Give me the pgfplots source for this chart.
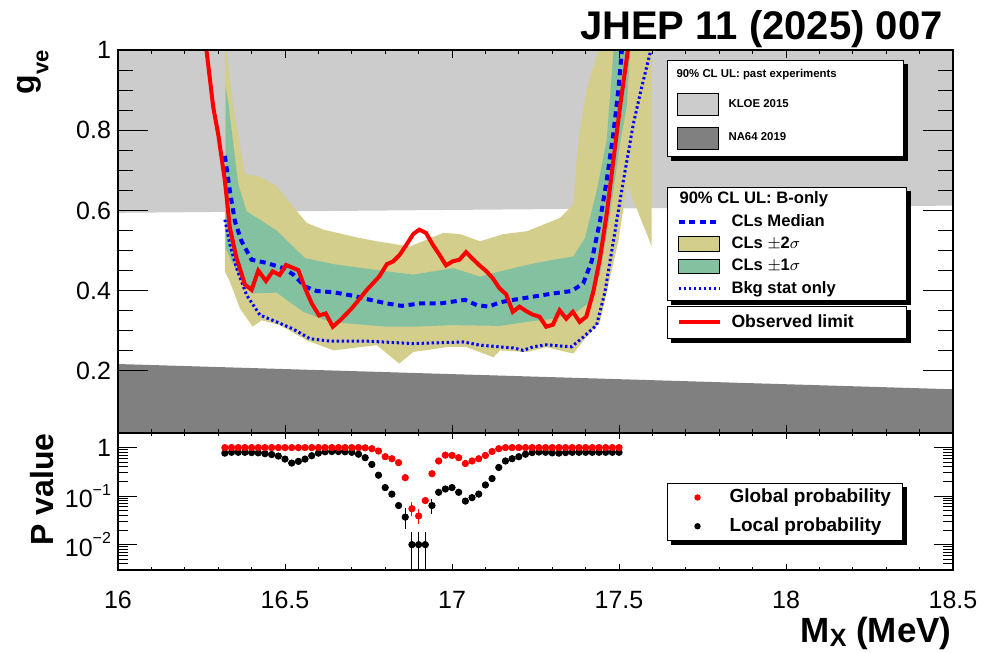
\documentclass[border=0pt]{standalone}
\usepackage{fontspec}
\setmainfont{Liberation Sans}
\usepackage{pgfplots}
\pgfplotsset{compat=1.18}
\definecolor{kloe}{RGB}{204,204,204}
\definecolor{na64}{RGB}{128,128,128}
\definecolor{band2}{RGB}{212,206,140}
\definecolor{band1}{RGB}{132,193,160}
\definecolor{rootblue}{RGB}{0,0,255}
\definecolor{rootred}{RGB}{255,0,0}
\newcommand{\tickfont}{\fontsize{12.5}{13}\selectfont}
\newcommand{\shadowof}[1]{%
  \fill[black] ([yshift=-2pt]#1.north east) rectangle ([xshift=2pt,yshift=-2pt]#1.south east);
  \fill[black] ([xshift=2pt]#1.south west) rectangle ([xshift=2pt,yshift=-2pt]#1.south east);}
\pgfplotsset{
  swatch/.style={legend image code/.code={\draw[##1,draw=black,line width=0.5pt] (0pt,-3.6pt) rectangle (20.5pt,3.6pt);}},
  bigswatch/.style={legend image code/.code={\draw[##1,draw=black,line width=0.5pt] (0pt,-5.5pt) rectangle (20.5pt,5.5pt);}},
  linesw/.style={legend image code/.code={\draw[##1] (0pt,0pt) -- (20.5pt,0pt);}},
  dotimg/.style={legend image code/.code={\path[draw=none,fill=none] (0pt,-2pt) rectangle (17pt,2pt); \fill[##1, draw=none] (8.5pt,0pt) circle (1.6pt);}},
  rootlegend/.style={legend cell align=left,
    legend style={draw=black, line width=0.5pt, fill=white,
      inner xsep=4.5pt, column sep=4pt, anchor=north west,
      nodes={inner sep=1pt}}},
  overlaytop/.style={at={(59pt,-25pt)}, anchor=north west, width=417.5pt, height=191.5pt,
    scale only axis, hide axis, xmin=16, xmax=18.5, ymin=0.045, ymax=1},
}
\begin{document}
\begin{tikzpicture}
\useasboundingbox (0pt,0pt) rectangle (491.5pt,-326pt);
% ---------------- top panel ----------------
\begin{axis}[
  at={(59pt,-25pt)}, anchor=north west, width=417.5pt, height=191.5pt, scale only axis,
  xmin=16, xmax=18.5, ymin=0.045, ymax=1,
  xtick={16,16.5,17,17.5,18,18.5}, xticklabels={}, minor x tick num=4,
  ytick={0.2,0.4,0.6,0.8,1}, minor y tick num=3,
  tick align=inside, tick pos=both,
  xtick style={/pgfplots/major tick length=4pt,/pgfplots/minor tick length=2pt},
  ytick style={/pgfplots/major tick length=15pt,/pgfplots/minor tick length=7.5pt},
  tick style={black, line width=0.5pt},
  axis line style={line width=0.6pt},
  /pgf/number format/assume math mode=true,
  yticklabel style={font=\tickfont},
  axis on top,
]
\addplot[fill=kloe, draw=none, forget plot] coordinates {(16,0.594) (18.5,0.612) (18.5,1.1) (16,1.1)} --cycle;
\addplot[fill=na64, draw=none, forget plot] coordinates {(16,0.217) (18.5,0.154) (18.5,0) (16,0)} --cycle;
% +-2 sigma band
\addplot[fill=band2, draw=none, forget plot] coordinates {
(16.32,1.3)(16.325,1.0)(16.345,0.86)(16.38,0.69)(16.42,0.686)(16.475,0.661)(16.535,0.598)(16.565,0.569)(16.615,0.552)(16.725,0.531)(16.775,0.523)(16.874,0.510)(16.974,0.544)(17.024,0.541)(17.084,0.523)(17.154,0.541)(17.224,0.548)(17.323,0.581)(17.363,0.615)(17.378,0.774)(17.403,0.90)(17.438,1.0)(17.45,1.3)(17.598,1.3)
(17.598,0.51)(17.524,0.665)(17.498,0.523)(17.443,0.322)(17.398,0.28)(17.363,0.243)(17.283,0.259)(17.224,0.247)(17.144,0.251)(17.124,0.234)(17.044,0.259)(16.984,0.259)(16.884,0.247)(16.842,0.218)(16.775,0.264)(16.645,0.251)(16.565,0.276)(16.485,0.314)(16.43,0.326)(16.403,0.31)(16.365,0.356)(16.335,0.422)(16.32,0.448)
} --cycle;
% +-1 sigma band
\addplot[fill=band1, draw=none, forget plot] coordinates {
(16.322,0.91)(16.33,0.87)(16.36,0.665)(16.385,0.598)(16.475,0.55)(16.56,0.481)(16.645,0.466)(16.805,0.448)(16.884,0.44)(17.004,0.456)(17.084,0.435)(17.144,0.448)(17.224,0.464)(17.303,0.477)(17.363,0.485)(17.398,0.531)(17.433,0.648)(17.463,0.774)(17.483,0.992)(17.49,1.3)(17.54,1.3)
(17.54,1.1)(17.533,0.992)(17.523,0.858)(17.503,0.766)(17.473,0.59)(17.443,0.44)(17.413,0.372)(17.373,0.347)(17.303,0.33)(17.224,0.322)(17.144,0.312)(17.004,0.314)(16.884,0.31)(16.805,0.31)(16.635,0.322)(16.555,0.347)(16.475,0.395)(16.40,0.393)(16.36,0.44)(16.322,0.506)
} --cycle;
% CLs median
\addplot[rootblue, line width=2pt, dash pattern=on 3pt off 2.3pt, forget plot] coordinates {
(16.32,0.736)(16.335,0.648)(16.35,0.573)(16.37,0.523)(16.40,0.477)(16.445,0.469)(16.495,0.456)(16.525,0.44)(16.56,0.41)(16.595,0.399)(16.645,0.396)(16.705,0.387)(16.755,0.377)(16.805,0.368)(16.85,0.362)(16.904,0.368)(16.964,0.368)(17.039,0.377)(17.074,0.364)(17.109,0.36)(17.144,0.371)(17.184,0.377)(17.243,0.385)(17.303,0.393)(17.358,0.399)(17.393,0.418)(17.418,0.473)(17.443,0.573)(17.463,0.674)(17.483,0.791)(17.498,0.90)(17.508,0.992)(17.512,1.05)
};
% Bkg stat only
\addplot[rootblue, line width=1.5pt, dash pattern=on 1.2pt off 1.3pt, forget plot] coordinates {
(16.32,0.577)(16.335,0.515)(16.355,0.456)(16.385,0.389)(16.425,0.339)(16.475,0.322)(16.525,0.304)(16.575,0.28)(16.635,0.274)(16.745,0.274)(16.884,0.268)(17.034,0.272)(17.084,0.264)(17.184,0.257)(17.213,0.251)(17.243,0.26)(17.283,0.265)(17.323,0.262)(17.358,0.26)(17.393,0.284)(17.433,0.314)(17.458,0.397)(17.483,0.523)(17.513,0.674)(17.543,0.816)(17.568,0.908)(17.593,0.992)(17.596,1.05)
};
% Observed limit
\addplot[rootred, line width=2pt, forget plot] coordinates {
(16.262,1.02)(16.285,0.858)(16.30,0.79)(16.32,0.674)(16.335,0.556)(16.355,0.481)(16.38,0.415)(16.40,0.402)(16.42,0.45)(16.443,0.424)(16.463,0.448)(16.484,0.439)(16.503,0.464)(16.54,0.451)(16.56,0.406)(16.58,0.368)(16.602,0.338)(16.622,0.343)(16.643,0.31)(16.665,0.326)(16.70,0.356)(16.725,0.381)(16.745,0.402)(16.782,0.435)(16.805,0.466)(16.824,0.473)(16.844,0.49)(16.864,0.515)(16.884,0.541)(16.902,0.552)(16.922,0.544)(16.942,0.515)(16.962,0.49)(16.982,0.463)(17.002,0.473)(17.022,0.477)(17.042,0.496)(17.062,0.479)(17.082,0.463)(17.102,0.449)(17.122,0.431)(17.142,0.406)(17.162,0.391)(17.182,0.347)(17.202,0.36)(17.222,0.349)(17.242,0.34)(17.262,0.335)(17.282,0.31)(17.302,0.315)(17.322,0.351)(17.342,0.33)(17.362,0.347)(17.382,0.322)(17.402,0.335)(17.423,0.397)(17.443,0.481)(17.463,0.59)(17.483,0.724)(17.503,0.858)(17.53,1.02)
};
\node[anchor=base west, inner sep=0pt, font=\tickfont] at (rel axis cs:0,1) [yshift=1.2pt] {×10\raisebox{0.5em}{\fontsize{8}{8}\selectfont −3}};
\end{axis}
% legend 1: past experiments
\begin{axis}[overlaytop, rootlegend,
  legend style={name=LA, at={(0.6575,0.974)}, font=\bfseries\fontsize{5.7}{6.5}\selectfont, row sep=5.25pt, inner ysep=3.5pt}]
\addlegendimage{empty legend}
\addlegendentry{\makebox[82pt][l]{\hspace{-26pt}90\% CL UL: past experiments\rule[-4.5pt]{0pt}{0pt}}}
\addlegendimage{bigswatch, fill=kloe}
\addlegendentry{KLOE 2015}
\addlegendimage{bigswatch, fill=na64}
\addlegendentry{NA64 2019}
\end{axis}
% legend 2: B-only
\begin{axis}[overlaytop, rootlegend,
  legend style={name=LB, at={(0.6575,0.642)}, font=\bfseries\fontsize{8.3}{9}\selectfont, row sep=1.2pt, inner ysep=0.8pt,
  nodes={inner sep=1pt, text height=6.2pt, text depth=1.8pt}}]
\addlegendimage{empty legend}
\addlegendentry{\makebox[82pt][l]{\hspace{-26pt}90\% CL UL: B-only}}
\addlegendimage{linesw, rootblue, line width=2pt, dash pattern=on 3pt off 2.3pt}
\addlegendentry{CLs Median}
\addlegendimage{swatch, fill=band2}
\addlegendentry{CLs $\pm$2$\sigma$}
\addlegendimage{swatch, fill=band1}
\addlegendentry{CLs $\pm$1$\sigma$}
\addlegendimage{linesw, rootblue, line width=1.5pt, dash pattern=on 1.2pt off 1.3pt}
\addlegendentry{Bkg stat only}
\end{axis}
% legend 3: observed
\begin{axis}[overlaytop, rootlegend,
  legend style={name=LC, at={(0.6575,0.332)}, font=\bfseries\fontsize{8.8}{9.5}\selectfont, inner ysep=3pt}]
\addlegendimage{linesw, rootred, line width=2pt}
\addlegendentry{\makebox[82pt][l]{Observed limit}}
\end{axis}
% ---------------- bottom panel ----------------
\begin{axis}[
  at={(59pt,-216.5pt)}, anchor=north west, width=417.5pt, height=68.5pt, scale only axis,
  xmin=16, xmax=18.5, ymode=log, ymin=0.003, ymax=2,
  xtick={16,16.5,17,17.5,18,18.5}, xticklabels={16,16.5,17,17.5,18,18.5}, minor x tick num=4,
  ytick={0.01,0.1,1},
  yticklabels={10\raisebox{0.5em}{\fontsize{8}{8}\selectfont −2},10\raisebox{0.5em}{\fontsize{8}{8}\selectfont −1},1},
  minor ytick={0.003,0.004,0.005,0.006,0.007,0.008,0.009,0.02,0.03,0.04,0.05,0.06,0.07,0.08,0.09,0.2,0.3,0.4,0.5,0.6,0.7,0.8,0.9,2},
  tick align=inside, tick pos=both,
  xtick style={/pgfplots/major tick length=3pt,/pgfplots/minor tick length=1.5pt},
  ytick style={/pgfplots/major tick length=9.5pt,/pgfplots/minor tick length=5pt},
  tick style={black, line width=0.5pt},
  axis line style={line width=0.6pt},
  xticklabel style={font=\tickfont, yshift=-7pt},
  yticklabel style={font=\tickfont},
  legend cell align=left,
  legend style={name=LD, at={(0.6575,0.635)}, anchor=north west, draw=black, line width=0.5pt, fill=white,
    inner xsep=6.5pt, inner ysep=1.8pt, column sep=6.5pt, row sep=4pt,
    font=\bfseries\fontsize{9.5}{10}\selectfont, nodes={inner sep=1pt}},
]
% local probability
\addplot[only marks, mark=*, mark size=1.6pt, black, forget plot] coordinates {
(16.32,0.77)(16.34,0.80)(16.36,0.80)(16.38,0.80)(16.40,0.79)(16.42,0.78)(16.44,0.75)(16.46,0.72)(16.48,0.67)(16.50,0.58)(16.52,0.48)(16.54,0.52)(16.56,0.58)(16.58,0.68)(16.60,0.77)(16.62,0.82)(16.64,0.83)(16.66,0.83)(16.68,0.82)(16.70,0.80)(16.72,0.73)(16.74,0.62)(16.76,0.45)(16.78,0.27)(16.80,0.15)(16.82,0.11)(16.84,0.064)
(16.96,0.12)(16.98,0.14)(17.00,0.15)(17.02,0.12)(17.04,0.079)(17.06,0.093)(17.08,0.11)(17.10,0.17)(17.12,0.23)(17.14,0.39)(17.16,0.53)(17.18,0.59)(17.20,0.65)(17.22,0.73)(17.24,0.79)(17.26,0.81)(17.28,0.80)(17.30,0.78)(17.32,0.77)(17.34,0.79)(17.36,0.80)(17.38,0.80)(17.40,0.80)(17.42,0.80)(17.44,0.80)(17.46,0.80)(17.48,0.80)(17.50,0.80)
};
\addplot[only marks, mark=*, mark size=1.6pt, black, forget plot,
  error bars/.cd, y dir=both, y explicit, error bar style={line width=0.5pt, black}, error mark options={mark size=1.5pt, line width=0.5pt}] coordinates {
(16.86,0.037) += (0,0.012) -= (0,0.013)
(16.88,0.01) += (0,0.0055) -= (0,0.0099)
(16.90,0.01) += (0,0.0055) -= (0,0.0099)
(16.92,0.01) += (0,0.0055) -= (0,0.0099)
(16.94,0.064) += (0,0.012) -= (0,0.014)
};
% global probability
\addplot[only marks, mark=*, mark size=1.6pt, rootred, forget plot] coordinates {
(16.32,1)(16.34,1)(16.36,1)(16.38,1)(16.40,1)(16.42,1)(16.44,1)(16.46,1)(16.48,1)(16.50,1)(16.52,1)(16.54,1)(16.56,1)(16.58,1)(16.60,1)(16.62,1)(16.64,1)(16.66,1)(16.68,1)(16.70,1)(16.72,1)(16.74,0.99)(16.76,0.95)(16.78,0.85)(16.80,0.65)(16.82,0.59)(16.84,0.49)(16.86,0.24)
(16.92,0.081)(16.94,0.29)(16.96,0.53)(16.98,0.70)(17.00,0.69)(17.02,0.62)(17.04,0.47)(17.06,0.53)(17.08,0.59)(17.10,0.69)(17.12,0.83)(17.14,0.95)(17.16,1)(17.18,1)(17.20,1)(17.22,1)(17.24,1)(17.26,1)(17.28,1)(17.30,1)(17.32,1)(17.34,1)(17.36,1)(17.38,1)(17.40,1)(17.42,1)(17.44,1)(17.46,1)(17.48,1)(17.50,1)
};
\addplot[only marks, mark=*, mark size=1.6pt, rootred, forget plot,
  error bars/.cd, y dir=both, y explicit, error bar style={line width=0.5pt, rootred}, error mark options={mark size=1.5pt, line width=0.5pt}] coordinates {
(16.88,0.055) += (0,0.01) -= (0,0.01)
(16.90,0.039) += (0,0.008) -= (0,0.008)
};
\addlegendimage{dotimg, rootred}
\addlegendentry{\makebox[79pt][l]{Global probability}}
\addlegendimage{dotimg, black}
\addlegendentry{Local probability}
\end{axis}
% legend shadows
\shadowof{LA}
\shadowof{LB}
\shadowof{LC}
\shadowof{LD}
% titles
\node[rotate=90, anchor=base east, inner sep=0pt, font=\bfseries\fontsize{16}{17}\selectfont] at (17pt,-25pt) {g\raisebox{-0.45em}{\fontsize{11}{12}\selectfont ve}};
\node[rotate=90, anchor=base east, inner sep=0pt, font=\bfseries\fontsize{16}{17}\selectfont] at (26.5pt,-216.5pt) {P value};
\node[anchor=base east, inner sep=0pt, font=\bfseries\fontsize{17.5}{18}\selectfont] at (476pt,-321pt) {M\raisebox{-2.2pt}{\fontsize{12.5}{13}\selectfont X} (MeV)};
\node[anchor=base east, inner sep=0pt, font=\bfseries\fontsize{20}{21}\selectfont] at (471.5pt,-20pt) {JHEP 11 (2025) 007};
\end{tikzpicture}
\end{document}
